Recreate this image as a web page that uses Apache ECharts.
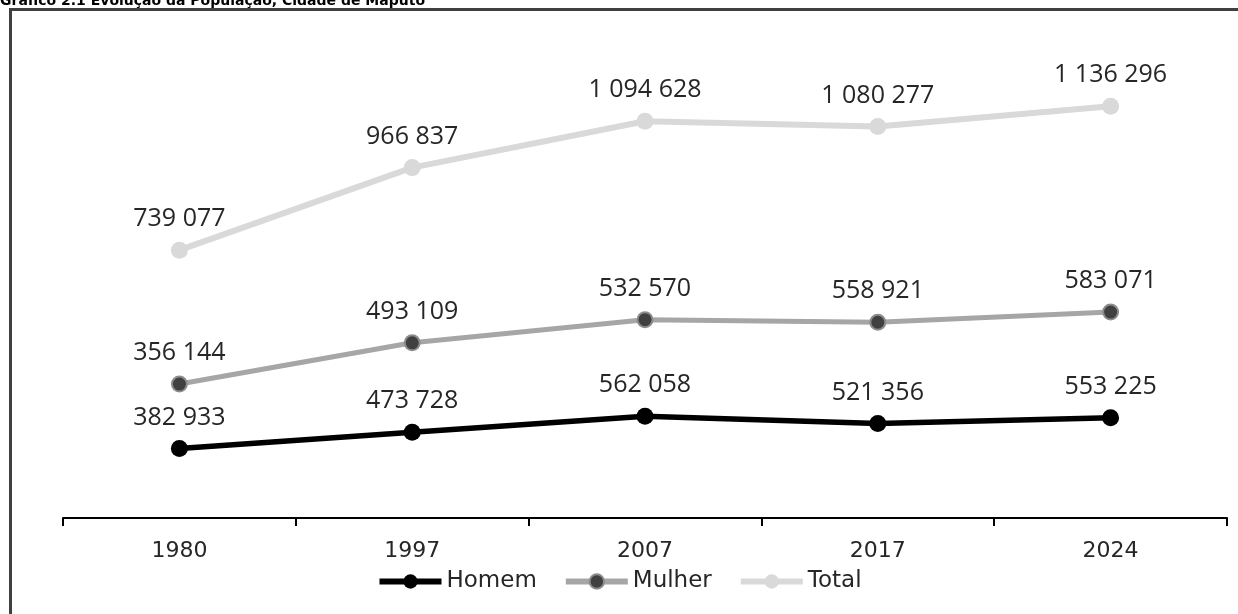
<!DOCTYPE html>
<html>
<head>
<meta charset="utf-8">
<script src="https://cdn.jsdelivr.net/npm/echarts@6/dist/echarts.min.js"></script>
<style>
html,body{margin:0;padding:0;background:#fff;}
#c{width:1238px;height:614px;}
</style>
</head>
<body>
<div id="c"></div>
<script>
var years = ['1980', '1997', '2007', '2017', '2024'];
var homem = [382933, 473728, 562058, 521356, 553225];
var mulher = [356144, 493109, 532570, 558921, 583071];
var total = [739077, 966837, 1094628, 1080277, 1136296];
var titleText = 'Gráfico 2.1 Evolução da População, Cidade de Maputo';

function fmt(v) {
  return String(v).replace(/\B(?=(\d{3})+(?!\d))/g, ' ');
}
var labelStyle = {
  show: true,
  position: 'top',
  distance: 10,
  fontFamily: 'Open Sans',
  fontSize: 25,
  color: '#262626',
  formatter: function (p) { return fmt(p.value); }
};

var chart = echarts.init(document.getElementById('c'), null, {renderer: 'canvas'});
chart.setOption({
  animation: false,
  backgroundColor: '#fff',
  graphic: [
    {type: 'rect', shape: {x: 10.5, y: 9.5, width: 1300, height: 700},
     style: {fill: 'none', stroke: '#404040', lineWidth: 3}, z: 0},
    {type: 'text', left: 0, top: -6,
     style: {text: titleText, font: 'bold 14px "DejaVu Sans"', fill: '#000'}}
  ],
  grid: {left: 63, right: 11, top: 65, bottom: 96},
  legend: {
    bottom: 16,
    left: 'center',
    itemWidth: 62,
    itemHeight: 18,
    itemGap: 26,
    textStyle: {fontFamily: 'DejaVu Sans', fontSize: 23, color: '#262626'},
    data: [
      {name: 'Homem', lineStyle: {width: 6}},
      {name: 'Mulher', lineStyle: {width: 6}},
      {name: 'Total', lineStyle: {width: 6}}
    ]
  },
  xAxis: {
    type: 'category',
    data: years,
    boundaryGap: true,
    axisLine: {lineStyle: {color: '#000', width: 2}},
    axisTick: {show: true, inside: false, length: 8, lineStyle: {color: '#000', width: 2}},
    axisLabel: {fontFamily: 'DejaVu Sans', fontSize: 22, color: '#262626', margin: 22}
  },
  yAxis: {
    type: 'value',
    min: 0,
    max: 2500000,
    show: false,
    splitLine: {show: false}
  },
  series: [
    {name: 'Homem', type: 'line', stack: 's', data: homem,
     symbol: 'circle', symbolSize: 17,
     lineStyle: {color: '#000', width: 5.5},
     itemStyle: {color: '#000'},
     label: labelStyle, z: 5},
    {name: 'Mulher', type: 'line', stack: 's', data: mulher,
     symbol: 'circle', symbolSize: 15,
     lineStyle: {color: '#a6a6a6', width: 5},
     itemStyle: {color: '#404040', borderColor: '#8c8c8c', borderWidth: 2},
     label: labelStyle, z: 4},
    {name: 'Total', type: 'line', stack: 's', data: total,
     symbol: 'circle', symbolSize: 17,
     lineStyle: {color: '#d9d9d9', width: 6},
     itemStyle: {color: '#d9d9d9'},
     label: labelStyle, z: 3}
  ]
});
</script>
</body>
</html>
